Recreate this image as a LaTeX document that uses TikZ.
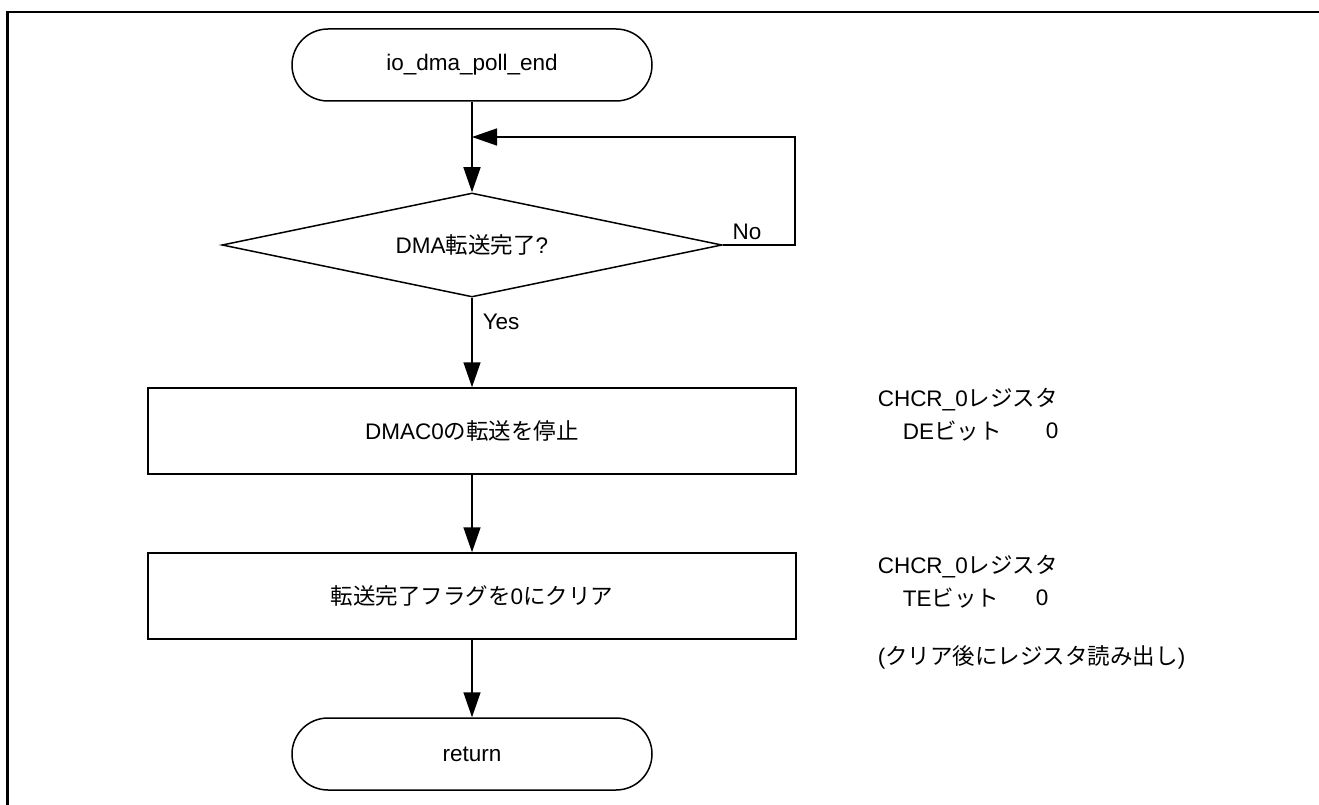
\documentclass[tikz,border=0pt]{standalone}
\usepackage{fontspec}
\setmainfont{Liberation Sans}
\newfontfamily\jp{Noto Sans CJK JP}
\usetikzlibrary{arrows.meta,shapes.geometric}
\begin{document}
\begin{tikzpicture}[x=1pt,y=-1pt,line width=1.5pt,
  every node/.style={font=\fontsize{22.5pt}{26pt}\selectfont},
  term/.style={draw,rectangle,rounded corners=36pt,minimum width=360pt,minimum height=72pt,inner sep=0pt},
  proc/.style={draw,rectangle,minimum width=648pt,minimum height=86pt,inner sep=0pt},
  deci/.style={draw,diamond,shape aspect=4.8,minimum width=500pt,minimum height=104pt,inner sep=0pt},
  note/.style={anchor=west,inner sep=0pt},
  arr/.style={-{Triangle[length=25pt,width=17pt]}}]
\useasboundingbox (0,0) rectangle (1319,805);
\draw[line width=2.2pt] (7.5,805) -- (7.5,12) -- (1319,12);
\node[term] (start) at (472,65) {io\_dma\_poll\_end};
\node[deci] (dec) at (472,245) {DMA{\jp 転送完了}?};
\node[proc] (box1) at (472,431) {DMAC0{\jp の転送を停止}};
\node[proc] (box2) at (472,596) {{\jp 転送完了フラグを}0{\jp にクリア}};
\node[term] (ret) at (472,754) {return};
\coordinate (merge) at (472,137);
\coordinate (loopc) at (795,137);
\draw[arr] (start.south) -- (dec.north);
\draw[arr] (dec.east) -| (loopc) -- (merge);
\draw[arr] (dec.south) -- (box1.north);
\draw[arr] (box1.south) -- (box2.north);
\draw[arr] (box2.south) -- (ret.north);
\node[anchor=center,inner sep=0pt] (nolbl) at (747,232) {No};
\node[note] (yeslbl) at (482,322) {Yes};
\node[note] (n1a) at (877,400) {CHCR\_0{\jp レジスタ}};
\node[note] (n1b) at (902,431) {DE{\jp ビット}};
\node[note] (n1c) at (1045,431) {0};
\node[note] (n2a) at (877,567) {CHCR\_0{\jp レジスタ}};
\node[note] (n2b) at (902,598) {TE{\jp ビット}};
\node[note] (n2c) at (1035,598) {0};
\node[note] (n2d) at (877,657) {({\jp クリア後にレジスタ読み出し})};
\end{tikzpicture}
\end{document}
